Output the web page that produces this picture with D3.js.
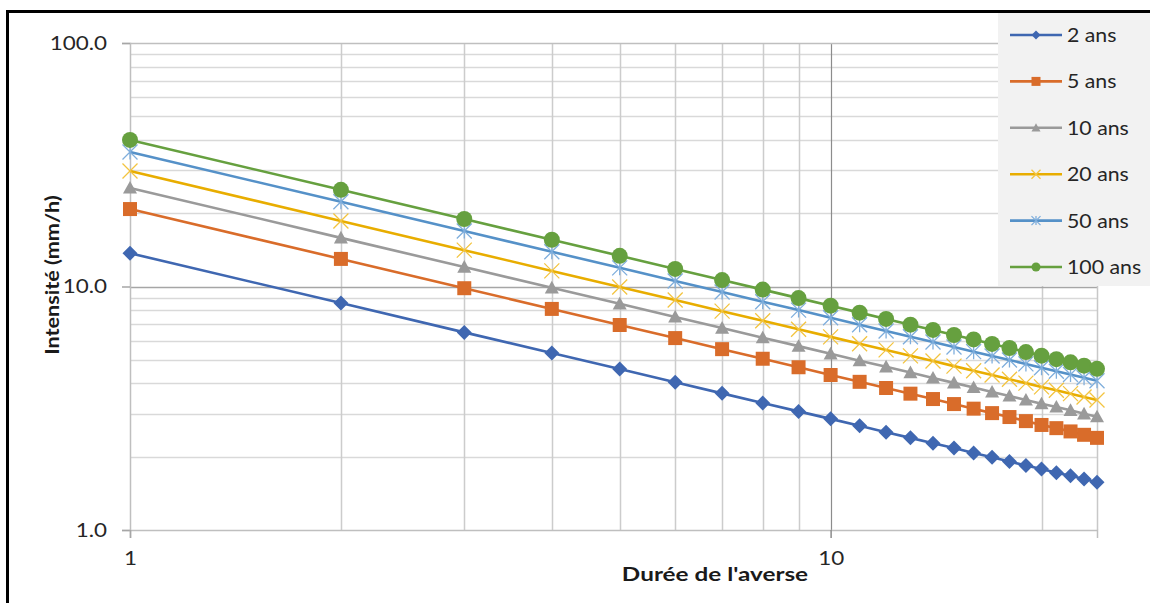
<!DOCTYPE html>
<html>
<head>
<meta charset="utf-8">
<script src="https://cdn.jsdelivr.net/npm/d3@7"></script>
<style>
  body { margin: 0; background: #fff; }
  svg { display: block; font-family: Lato, "Liberation Sans", sans-serif; }
</style>
</head>
<body>
<div class="svg_container"></div>
<script>
// Chart data
var durations = [1, 2, 3, 4, 5, 6, 7, 8, 9, 10, 11, 12, 13, 14, 15, 16, 17, 18, 19, 20, 21, 22, 23, 24];
var seriesNames = ["2 ans", "5 ans", "10 ans", "20 ans", "50 ans", "100 ans"];
var i2 = [13.70, 8.55, 6.48, 5.33, 4.58, 4.04, 3.64, 3.32, 3.07, 2.86, 2.68, 2.52, 2.39, 2.27, 2.17, 2.07, 1.99, 1.91, 1.84, 1.78, 1.72, 1.67, 1.62, 1.57];
var i5 = [20.80, 12.98, 9.84, 8.09, 6.95, 6.14, 5.53, 5.05, 4.66, 4.33, 4.06, 3.83, 3.63, 3.45, 3.29, 3.15, 3.02, 2.91, 2.80, 2.70, 2.62, 2.54, 2.46, 2.39];
var i10 = [25.40, 15.84, 12.02, 9.88, 8.49, 7.50, 6.75, 6.16, 5.69, 5.29, 4.96, 4.68, 4.43, 4.21, 4.02, 3.85, 3.69, 3.55, 3.42, 3.30, 3.20, 3.10, 3.00, 2.92];
var i20 = [29.80, 18.59, 14.10, 11.59, 9.96, 8.80, 7.92, 7.23, 6.68, 6.21, 5.82, 5.49, 5.19, 4.94, 4.71, 4.51, 4.33, 4.16, 4.01, 3.87, 3.75, 3.63, 3.52, 3.42];
var i50 = [35.70, 22.27, 16.90, 13.89, 11.93, 10.54, 9.49, 8.66, 8.00, 7.44, 6.97, 6.57, 6.22, 5.92, 5.64, 5.40, 5.18, 4.99, 4.81, 4.64, 4.49, 4.35, 4.22, 4.10];
var i100 = [40.00, 24.95, 18.93, 15.56, 13.37, 11.81, 10.63, 9.71, 8.96, 8.34, 7.81, 7.36, 6.97, 6.63, 6.32, 6.06, 5.81, 5.59, 5.38, 5.20, 5.03, 4.88, 4.73, 4.59];
var yTicks = [1, 10, 100];
var xTicks = [1, 10];

var W = 1150, H = 603;
var colors = ["#3F67B1", "#D96C2A", "#9a9a9a", "#E8AD00", "#5591C8", "#66A03F"];
var markerColors = ["#3F67B1", "#D96C2A", "#9a9a9a", "#F3C440", "#7FAEDC", "#66A03F"];
var markers = ["diamond", "square", "triangle", "x", "star", "circle"];
var allSeries = [i2, i5, i10, i20, i50, i100];

// text in the picture is a bit stretched sideways, so widen it
function stretch(sel, k) {
    sel.each(function() {
        var t = d3.select(this);
        var w = this.getComputedTextLength();
        t.attr("textLength", w * k).attr("lengthAdjust", "spacingAndGlyphs");
    });
}

var svg = d3.select("div.svg_container")
    .append("svg")
    .attr("width", W)
    .attr("height", H);

// frame
svg.append("line").attr("x1", 6).attr("x2", W).attr("y1", 11.5).attr("y2", 11.5)
    .attr("stroke", "#000").attr("stroke-width", 3);
svg.append("line").attr("x1", 7.5).attr("x2", 7.5).attr("y1", 10).attr("y2", H)
    .attr("stroke", "#000").attr("stroke-width", 3);

var x = d3.scaleLog().domain([1, 24]).range([130, 1097]);
var y = d3.scaleLog().domain([1, 100]).range([530, 43]);

// gridlines
var xMinor = [2, 3, 4, 5, 6, 7, 8, 9, 20];
var yMinor = [];
[1, 10].forEach(function(d) { for (var k = 2; k <= 9; k++) yMinor.push(d * k); });

svg.append("g").selectAll("line").data(yMinor).enter().append("line")
    .attr("x1", x(1)).attr("x2", x(24))
    .attr("y1", function(d) { return Math.round(y(d)) + 0.5; })
    .attr("y2", function(d) { return Math.round(y(d)) + 0.5; })
    .attr("stroke", "#d9d9d9").attr("stroke-width", 1.5);
svg.append("g").selectAll("line").data(xMinor).enter().append("line")
    .attr("y1", y(1)).attr("y2", y(100))
    .attr("x1", function(d) { return Math.round(x(d)) + 0.5; })
    .attr("x2", function(d) { return Math.round(x(d)) + 0.5; })
    .attr("stroke", "#cccccc").attr("stroke-width", 1.5);

// major gridlines at 10
svg.append("line").attr("x1", x(1)).attr("x2", x(24))
    .attr("y1", Math.round(y(10)) + 0.5).attr("y2", Math.round(y(10)) + 0.5)
    .attr("stroke", "#a6a6a6").attr("stroke-width", 1.5);
svg.append("line").attr("y1", y(1)).attr("y2", y(100))
    .attr("x1", Math.round(x(10)) + 0.5).attr("x2", Math.round(x(10)) + 0.5)
    .attr("stroke", "#8c8c8c").attr("stroke-width", 1.2);
svg.append("line").attr("y1", y(1)).attr("y2", y(100))
    .attr("x1", Math.round(x(24)) + 0.5).attr("x2", Math.round(x(24)) + 0.5)
    .attr("stroke", "#c8c8c8").attr("stroke-width", 1.5);
svg.append("line").attr("x1", x(1)).attr("x2", x(24))
    .attr("y1", Math.round(y(100)) + 0.5).attr("y2", Math.round(y(100)) + 0.5)
    .attr("stroke", "#bfbfbf").attr("stroke-width", 1.5);

// axes
var yAxis = d3.axisLeft(y).tickValues(yTicks).tickFormat(d3.format(".1f")).tickSize(8).tickPadding(15);
var gy = svg.append("g").attr("transform", "translate(" + x(1) + ",0)").call(yAxis);
var xAxis = d3.axisBottom(x).tickValues(xTicks).tickFormat(d3.format("d")).tickSize(8).tickPadding(13);
var gx = svg.append("g").attr("transform", "translate(0," + y(1) + ")").call(xAxis);
[gx, gy].forEach(function(g) {
    g.select(".domain").attr("stroke", "#bfbfbf").attr("stroke-width", 1.5);
    g.selectAll(".tick line").attr("stroke", "#a6a6a6").attr("stroke-width", 1.5);
    g.selectAll(".tick text").attr("fill", "#262626").style("font-size", "20px")
        .style("font-family", "Lato, 'Liberation Sans', sans-serif");
    stretch(g.selectAll(".tick text"), 1.12);
});
gx.selectAll(".tick line").filter(function(d) { return d === 10; }).attr("stroke", "#8c8c8c");

// axis titles
var xTitle = svg.append("text")
    .attr("x", 715).attr("y", 581)
    .attr("text-anchor", "middle")
    .style("font-size", "18px").style("font-weight", "bold")
    .attr("fill", "#1a1a1a")
    .text("Durée de l'averse");
stretch(xTitle, 1.35);
var yTitle = svg.append("text")
    .attr("transform", "translate(59,275) rotate(-90)")
    .attr("text-anchor", "middle")
    .style("font-size", "18px").style("font-weight", "bold")
    .attr("fill", "#1a1a1a")
    .text("Intensité (mm/h)");
stretch(yTitle, 1.2);

// marker shapes
function markerPath(type, s) {
    var h = s / 2;
    if (type === "diamond") return "M0," + (-h) + "L" + h + ",0L0," + h + "L" + (-h) + ",0Z";
    if (type === "square") return "M" + (-h) + "," + (-h) + "H" + h + "V" + h + "H" + (-h) + "Z";
    if (type === "triangle") return "M0," + (-h) + "L" + h + "," + (h * 0.8) + "L" + (-h) + "," + (h * 0.8) + "Z";
    if (type === "x") return "M" + (-h) + "," + (-h) + "L" + h + "," + h + "M" + h + "," + (-h) + "L" + (-h) + "," + h;
    if (type === "star") return "M" + (-h) + "," + (-h) + "L" + h + "," + h + "M" + h + "," + (-h) + "L" + (-h) + "," + h + "M0," + (-h) + "V" + h;
    return d3.symbol().type(d3.symbolCircle).size(Math.PI * h * h)();
}
function drawMarker(g, type, color, s) {
    var p = g.append("path").attr("d", markerPath(type, s));
    if (type === "x" || type === "star") {
        p.attr("fill", "none").attr("stroke", color).attr("stroke-width", 1.3);
    } else {
        p.attr("fill", color);
    }
}
var markerSize = [15, 14, 14, 15, 15, 16];

var line = d3.line()
    .x(function(d, i) { return x(durations[i]); })
    .y(function(d) { return y(d); });

allSeries.forEach(function(vals, si) {
    svg.append("path")
        .attr("d", line(vals))
        .attr("fill", "none")
        .attr("stroke", colors[si])
        .attr("stroke-width", 2.6);
    var mg = svg.append("g");
    vals.forEach(function(v, i) {
        var g = mg.append("g").attr("transform", "translate(" + x(durations[i]) + "," + y(v) + ")");
        drawMarker(g, markers[si], markerColors[si], markerSize[si]);
    });
});

// legend
var legend = svg.append("g").attr("class", "legend");
legend.append("rect").attr("x", 998).attr("y", 13).attr("width", W - 998).attr("height", 273)
    .attr("fill", "#f2f2f2");
var legendY = d3.scaleLinear().domain([0, 5]).range([35, 267]);
seriesNames.forEach(function(name, si) {
    var ly = legendY(si);
    legend.append("line").attr("x1", 1010).attr("x2", 1062).attr("y1", ly).attr("y2", ly)
        .attr("stroke", colors[si]).attr("stroke-width", 2.6);
    var g = legend.append("g").attr("transform", "translate(1036," + ly + ")");
    drawMarker(g, markers[si], markerColors[si], 9);
    var t = legend.append("text").attr("x", 1067).attr("y", ly + 7)
        .style("font-size", "19px").attr("fill", "#262626")
        .text(name);
    stretch(t, 1.12);
});
</script>
</body>
</html>
